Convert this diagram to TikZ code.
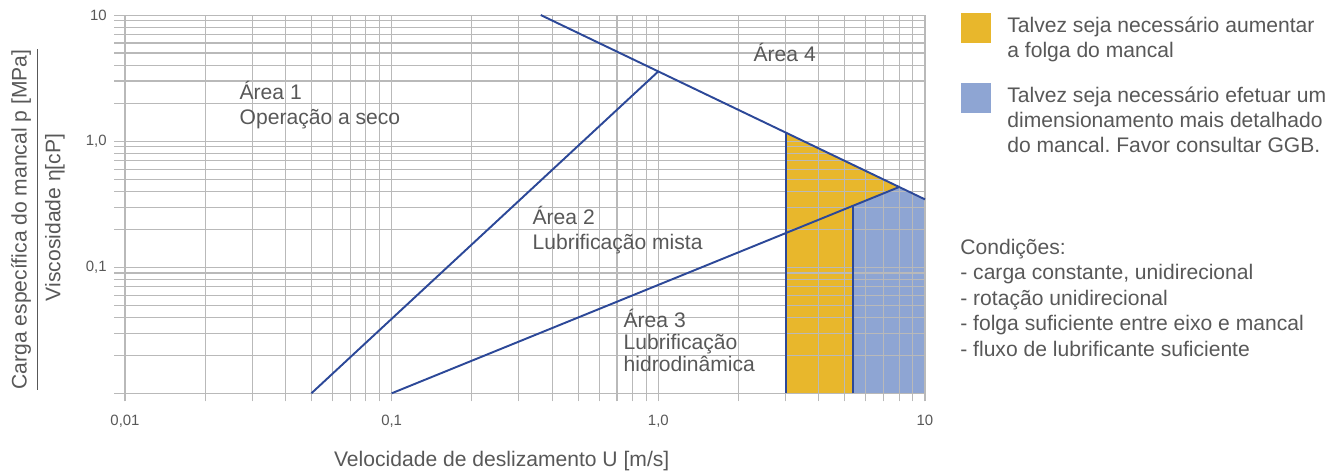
\documentclass[tikz,border=0pt]{standalone}
\usepackage{fontspec}
\setmainfont{Liberation Sans}
\usetikzlibrary{positioning}
\frenchspacing

\definecolor{txtgray}{RGB}{88,88,88}
\definecolor{gridgray}{RGB}{185,185,185}
\definecolor{lineblue}{RGB}{44,72,152}
\definecolor{folgayellow}{RGB}{232,183,44}
\definecolor{detblue}{RGB}{142,165,211}

\begin{document}
\begin{tikzpicture}[
  every node/.style={text=txtgray, font=\fontsize{12}{14.2}\selectfont},
  arealabel/.style={align=left, anchor=north west, inner sep=0pt},
  ticklab/.style={inner sep=0pt, font=\fontsize{8.5}{10}\selectfont},
  axlab/.style={inner sep=0pt},
  swatch/.style={minimum size=0.6cm, inner sep=0pt},
  gridline/.style={draw=gridgray, line width=0.6pt},
  bound/.style={draw=lineblue, line width=1.1pt, line join=round}
]
\useasboundingbox (0,0) rectangle (26.86,9.46);

% Plot: one unit = one decade, origin at (0.01, 0.01)
\begin{scope}[shift={(2.5,1.594)}, x=5.3333cm, y=2.5217cm]
  \coordinate (ta) at (1.559,3);     % upper limit line
  \coordinate (tb) at (3,1.538);
  \coordinate (aa) at (0.699,0);     % area 1 / area 2
  \coordinate (ab) at (2,2.553);
  \coordinate (ha) at (1,0);         % area 2 / area 3
  \coordinate (X) at (2.903,1.636);
  \coordinate (yb) at (2.4771,0);    % U = 3 m/s
  \coordinate (yt) at (2.4771,2.0685);
  \coordinate (bb) at (2.731,0);
  \coordinate (bt) at (2.731,1.488);
  \coordinate (rb) at (3,0);

  % Coloured areas
  \fill[folgayellow] (yb) -- (yt) -- (X) -- (bt) -- (bb) -- cycle;
  \fill[detblue] (bb) -- (bt) -- (X) -- (tb) -- (rb) -- cycle;

  % Log grid
  \foreach \d in {0,1,2}
    \foreach \m in {1,...,9} {
      \draw[gridline] ({\d+log10(\m)},-0.0635) -- ({\d+log10(\m)},3);
      \draw[gridline] (-0.04125,{\d+log10(\m)}) -- (3,{\d+log10(\m)});
    }
  \draw[gridline] (3,-0.0635) -- (3,3);
  \draw[gridline] (-0.04125,3) -- (3,3);

  % Boundaries
  \draw[bound] (ta) -- (tb);
  \draw[bound] (aa) -- (ab);
  \draw[bound] (ha) -- (X);
  \draw[bound] (yb) -- (yt);
  \draw[bound] (bb) -- (bt);

  % Tick labels
  \node[ticklab, anchor=east] (y10) at ([xshift=-3.6mm]0,3) {10};
  \node[ticklab, anchor=east] (y1) at ([xshift=-3.6mm]0,2) {1,0};
  \node[ticklab, anchor=east] (y01) at ([xshift=-3.6mm]0,1) {0,1};
  \node[ticklab, anchor=base] (x001) at ([yshift=-6.5mm]0,0) {0,01};
  \node[ticklab, anchor=base] (x01) at ([yshift=-6.5mm]1,0) {0,1};
  \node[ticklab, anchor=base] (x1) at ([yshift=-6.5mm]2,0) {1,0};
  \node[ticklab, anchor=base] (x10) at ([yshift=-6.5mm]3,0) {10};
\end{scope}

% Area labels
\node[arealabel] (a1) at (4.786,7.848) {Área 1\\Operação a seco};
\node[arealabel] (a2) at (10.646,5.348) {Área 2\\Lubrificação mista};
\node[arealabel, font=\fontsize{12}{12.5}\selectfont] (a3) at (12.466,3.282) {Área 3\\Lubrificação\\hidrodinâmica};
\node[anchor=base west, inner sep=0pt] (a4) at (15.066,8.226) {Área 4};

% Axis labels
\node[anchor=base] (xlab) at (10.034,0.14) {Velocidade de deslizamento U [m/s]};
\node[axlab, rotate=90] (ynum) at (0.42,5.07) {Carga específica do mancal p [MPa]};
\node[axlab, rotate=90] (yden) at (1.10,5.11) {Viscosidade η[cP]};
\coordinate (fb) at (0.754,0);
\draw[txtgray, line width=0.8pt] (ynum.west -| fb) -- (ynum.east -| fb);

% Legend
\node[swatch, fill=folgayellow] (sw1) at (19.52,8.9) {};
\node[swatch, fill=detblue] (sw2) at (19.52,7.493) {};
\node[arealabel] (leg1) at (20.14,9.126) {Talvez seja necessário aumentar\\a folga do mancal};
\node[arealabel] (leg2) at (20.14,7.732) {Talvez seja necessário efetuar um\\dimensionamento mais detalhado\\do mancal. Favor consultar GGB.};
\node[arealabel, font=\fontsize{12}{14.5}\selectfont] (cond) at (19.2,4.69) {Condições:\\- carga constante, unidirecional\\- rotação unidirecional\\- folga suficiente entre eixo e mancal\\- fluxo de lubrificante suficiente};

\end{tikzpicture}
\end{document}
